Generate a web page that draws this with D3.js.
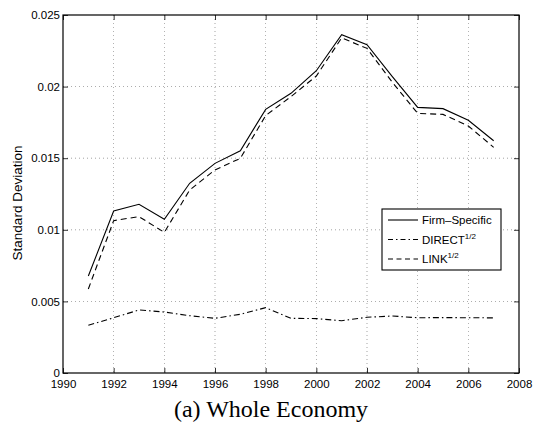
<!DOCTYPE html>
<html><head><meta charset="utf-8">
<script src="https://cdn.jsdelivr.net/npm/d3@7"></script>
<style>body{margin:0;background:#fff}svg{display:block}</style>
</head><body>
<script>
const years = [1991,1992,1993,1994,1995,1996,1997,1998,1999,2000,2001,2002,2003,2004,2005,2006,2007];
const firmSpecific = [0.00677,0.01131,0.01178,0.01073,0.01325,0.01464,0.01552,0.01841,0.01953,0.02111,0.02362,0.02293,0.02070,0.01855,0.01846,0.01765,0.01622];
const link = [0.00587,0.01064,0.01092,0.00982,0.01278,0.01418,0.01499,0.01798,0.01930,0.02074,0.02340,0.02267,0.02030,0.01813,0.01806,0.01725,0.01576];
const direct = [0.00333,0.00386,0.00440,0.00426,0.00400,0.00382,0.00410,0.00456,0.00382,0.00380,0.00365,0.00389,0.00398,0.00386,0.00387,0.00386,0.00385];
const xTicks = [1990,1992,1994,1996,1998,2000,2002,2004,2006,2008];
const yTicks = [0,0.005,0.01,0.015,0.02,0.025];
const yTickLabels = ["0","0.005","0.01","0.015","0.02","0.025"];

const W=533,H=424;
const L=63,R=519,T=15,B=373;
const svg=d3.select("body").append("svg").attr("width",W).attr("height",H);
const x=d3.scaleLinear().domain([1990,2008]).range([L,R]);
const y=d3.scaleLinear().domain([0,0.025]).range([B,T]);
const font="'Liberation Sans', Arial, Helvetica, sans-serif";

// grid
const g=svg.append("g");
g.selectAll(".gx").data(xTicks.slice(1,-1)).join("line")
 .attr("x1",d=>x(d)).attr("x2",d=>x(d)).attr("y1",T).attr("y2",B)
 .attr("stroke","#000").attr("stroke-width",0.6).attr("stroke-dasharray","1,3").attr("opacity",0.6);
g.selectAll(".gy").data(yTicks.slice(1,-1)).join("line")
 .attr("y1",d=>y(d)).attr("y2",d=>y(d)).attr("x1",L).attr("x2",R)
 .attr("stroke","#000").attr("stroke-width",0.6).attr("stroke-dasharray","1,3").attr("opacity",0.6);

// axes with inward ticks
const ax=svg.append("g").attr("font-family",font).attr("font-size",11.5);
ax.append("g").attr("transform",`translate(0,${B})`).call(d3.axisBottom(x).tickValues(xTicks).tickFormat(d3.format("d")).tickSizeInner(-5).tickSizeOuter(0).tickPadding(7));
ax.append("g").attr("transform",`translate(0,${T})`).call(d3.axisTop(x).tickValues(xTicks).tickFormat("").tickSizeInner(-5).tickSizeOuter(0));
ax.append("g").attr("transform",`translate(${L},0)`).call(d3.axisLeft(y).tickValues(yTicks).tickFormat((d,i)=>yTickLabels[i]).tickSizeInner(-5).tickSizeOuter(0).tickPadding(3));
ax.append("g").attr("transform",`translate(${R},0)`).call(d3.axisRight(y).tickValues(yTicks).tickFormat("").tickSizeInner(-5).tickSizeOuter(0));
ax.selectAll(".domain").remove();
ax.selectAll("text").attr("font-family",font).attr("font-size",11.5).attr("fill","#000");
ax.selectAll(".tick line").attr("stroke","#000").attr("stroke-width",0.8);
svg.append("rect").attr("x",L).attr("y",T).attr("width",R-L).attr("height",B-T).attr("fill","none").attr("stroke","#000").attr("stroke-width",1.2);

// lines
const line=d3.line().x((d,i)=>x(years[i])).y(d=>y(d));
const series=[
 {name:"Firm\u2013Specific",data:firmSpecific,dash:null},
 {name:"DIRECT",sup:"1/2",data:direct,dash:"6,3,1.5,3"},
 {name:"LINK",sup:"1/2",data:link,dash:"6,4"}
];
series.forEach(s=>{
 const p=svg.append("path").datum(s.data).attr("d",line).attr("fill","none").attr("stroke","#000").attr("stroke-width",1.1);
 if(s.dash)p.attr("stroke-dasharray",s.dash);
});

// y label
svg.append("text").attr("transform",`translate(22,${(T+B)/2+9}) rotate(-90)`).attr("text-anchor","middle")
 .attr("font-family",font).attr("font-size",13.5).text("Standard Deviation");

// caption
svg.append("text").attr("x",271).attr("y",417).attr("text-anchor","middle")
 .attr("font-family","'Liberation Serif', 'Times New Roman', serif").attr("font-size",24).text("(a) Whole Economy");

// legend
const lg=svg.append("g");
lg.append("rect").attr("x",382).attr("y",209).attr("width",119).attr("height",61).attr("fill","#fff").attr("stroke","#000").attr("stroke-width",1.1);
series.forEach((s,i)=>{
 const yy=220+i*19.5;
 const l=lg.append("line").attr("x1",388).attr("x2",418).attr("y1",yy).attr("y2",yy).attr("stroke","#000").attr("stroke-width",1.1);
 if(s.dash)l.attr("stroke-dasharray",s.dash==="6,4"?"5,3.5":"5,3,1.5,3");
 const t=lg.append("text").attr("x",422).attr("y",yy+4).attr("font-family",font).attr("font-size",11.5);
 t.append("tspan").text(s.name);
 if(s.sup)t.append("tspan").attr("dy",-5).attr("font-size",8).text(s.sup);
});
</script>
</body></html>
